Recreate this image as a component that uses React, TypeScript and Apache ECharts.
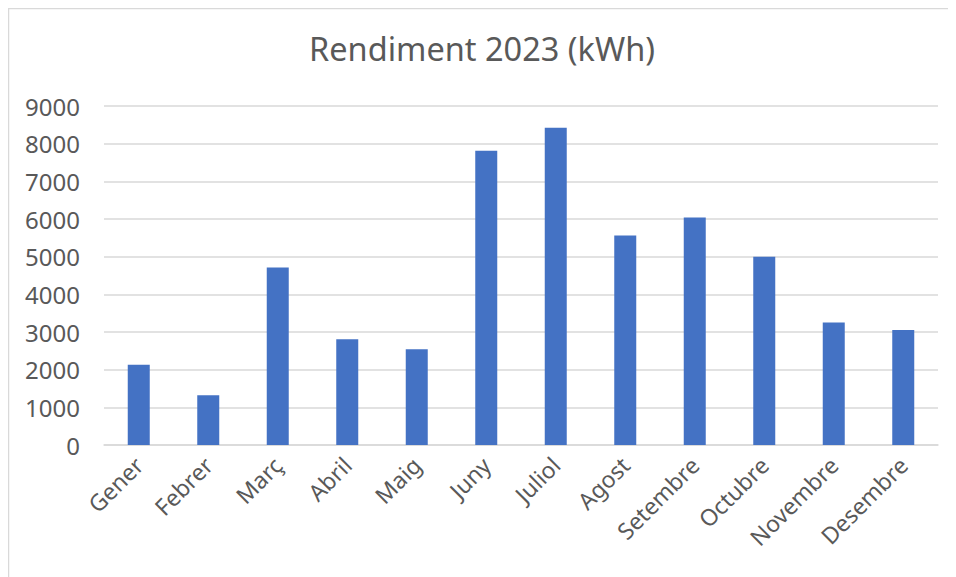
import React, { useEffect, useRef } from "react";
import * as echarts from "echarts";

const title = "Rendiment 2023 (kWh)";
const months = [
  "Gener", "Febrer", "Març", "Abril", "Maig", "Juny",
  "Juliol", "Agost", "Setembre", "Octubre", "Novembre", "Desembre",
];
const values = [2130, 1320, 4710, 2810, 2540, 7810, 8420, 5560, 6040, 5000, 3250, 3050];
const yMin = 0;
const yMax = 9000;
const yStep = 1000;

const FONT = "'Noto Sans', 'Open Sans', sans-serif";
const TEXT = "#595959";
const GRID = "#d9d9d9";
const BAR = "#4472C4";

export default function App() {
  const ref = useRef<HTMLDivElement>(null);
  useEffect(() => {
    if (!ref.current) return;
    const chart = echarts.init(ref.current, undefined, { renderer: "svg" });
    chart.setOption({
      animation: false,
      backgroundColor: "#ffffff",
      title: {
        text: title,
        left: "center",
        top: 19,
        padding: [5, 5, 5, 16],
        textStyle: { fontFamily: FONT, fontSize: 32.5, fontWeight: "normal", color: TEXT },
      },
      graphic: [
        {
          type: "rect",
          shape: { x: 0.5, y: 0.5, width: 2000, height: 2000 },
          style: { fill: "none", stroke: GRID, lineWidth: 1.5 },
          silent: true,
          z: -10,
        },
      ],
      grid: { left: 96, right: 18, top: 98, bottom: 132, containLabel: false },
      xAxis: {
        type: "category",
        data: months,
        axisLine: { show: true, lineStyle: { color: GRID, width: 1.5 } },
        axisTick: { show: false },
        axisLabel: {
          rotate: 45,
          interval: 0,
          margin: 16,
          fontFamily: FONT,
          fontSize: 23,
          color: TEXT,
        },
      },
      yAxis: {
        type: "value",
        min: yMin,
        max: yMax,
        interval: yStep,
        axisLine: { show: false },
        axisTick: { show: false },
        splitLine: { lineStyle: { color: GRID, width: 1.5 } },
        axisLabel: {
          margin: 24,
          fontFamily: FONT,
          fontSize: 24,
          color: TEXT,
          formatter: (v: number) => String(v),
        },
      },
      series: [
        {
          type: "bar",
          data: values,
          barWidth: 22,
          itemStyle: { color: BAR },
        },
      ],
    });
    return () => chart.dispose();
  }, []);
  return <div ref={ref} style={{ width: 948, height: 569 }} />;
}
